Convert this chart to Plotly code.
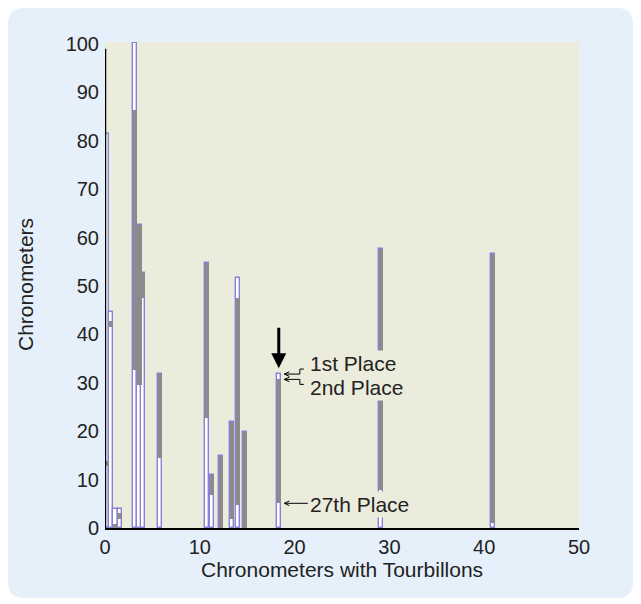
import plotly.graph_objects as go

# ---- data ----
bar_x = [0.22, 0.65, 1.1, 1.55, 3.17, 3.63, 4.0, 5.8, 10.8, 11.25, 12.2, 13.4, 14.0, 14.76, 18.33, 29.1, 40.9]
top_vals = [81.4, 44.7, 4.0, 4.0, 100.2, 62.6, 52.6, 31.8, 54.7, 10.9, 14.9, 21.9, 51.6, 19.9, 31.8, 57.6, 56.6]
high_vals = [13.8, 42.7, 0.8, 3.1, 86.4, 62.6, 52.6, 31.8, 54.7, 10.9, 14.9, 21.9, 47.6, 19.9, 30.7, 57.6, 56.6]
low_vals = [12.8, 41.6, 0.0, 1.9, 32.6, 29.5, 47.5, 14.5, 22.7, 6.8, 0.0, 1.9, 4.75, 0.0, 5.1, 7.85, 1.0]

x_ticks = [0, 10, 20, 30, 40, 50]
y_ticks = [0, 10, 20, 30, 40, 50, 60, 70, 80, 90, 100]

hl_index = 14  # the bar annotated with places
place_labels = ["1st Place", "2nd Place", "27th Place"]

# ---- layout geometry ----
W, H = 625, 590
L, R, T, B = 97, 54, 34, 70
X_RANGE = [0, 50]
Y_RANGE = [0, 100.4]
pw, ph = W - L - R, H - T - B
DX = (X_RANGE[1] - X_RANGE[0]) / pw   # data units per pixel
DY = (Y_RANGE[1] - Y_RANGE[0]) / ph

FONT = "Arial, Liberation Sans, sans-serif"
TXT = "#222222"
BEIGE = "#ECECDC"
PANEL = "#E6F0FA"
GRAY = "#8C8A8C"
OUTLINE = "#8782D8"
BW = 0.44

fig = go.Figure()
fig.add_trace(go.Bar(x=bar_x, y=top_vals, width=BW, marker=dict(color="white", line=dict(color=OUTLINE, width=1.4)),
                     hoverinfo="skip", showlegend=False))
fig.add_trace(go.Bar(x=bar_x, y=[h - l for h, l in zip(high_vals, low_vals)], base=low_vals, width=BW,
                     marker=dict(color=GRAY, line=dict(width=0)), hoverinfo="skip", showlegend=False))


def px2paper_x(px):
    return (px - L) / pw


def px2paper_y(py):
    return (H - B - py) / ph


# rounded outer panel
x0p, x1p, y0p, y1p, r = 0, W, 0, H, 16
def P(px, py):
    return f"{px2paper_x(px):.5f},{px2paper_y(py):.5f}"
path = (f"M {P(x0p + r, y0p)} L {P(x1p - r, y0p)} Q {P(x1p, y0p)} {P(x1p, y0p + r)} "
        f"L {P(x1p, y1p - r)} Q {P(x1p, y1p)} {P(x1p - r, y1p)} L {P(x0p + r, y1p)} "
        f"Q {P(x0p, y1p)} {P(x0p, y1p - r)} L {P(x0p, y0p + r)} Q {P(x0p, y0p)} {P(x0p + r, y0p)} Z")
shapes = [
    dict(type="path", path=path, xref="paper", yref="paper", fillcolor=PANEL, line=dict(width=0), layer="below"),
    dict(type="rect", xref="paper", yref="paper", x0=0, x1=1, y0=0, y1=1, fillcolor=BEIGE, line=dict(width=0), layer="below"),
    dict(type="line", xref="x", yref="y", x0=0, x1=0, y0=0, y1=99, line=dict(color="black", width=2.5)),
]

# small pointer arrows for the annotated bar
hx = bar_x[hl_index]
edge = hx + BW / 2
targets = [top_vals[hl_index], high_vals[hl_index], low_vals[hl_index]]
kinks = [+5, -5, None]
for yv, k in zip(targets, kinks):
    xs = edge + 3.5 * DX
    xe = edge + 19 * DX
    if k is None:
        seg = f"M {xs},{yv} L {edge + 27 * DX},{yv}"
    else:
        seg = f"M {xs},{yv} L {xe},{yv} L {xe},{yv + k * DY} L {xe + 4 * DX},{yv + k * DY}"
    head = (f"M {xs + 5 * DX},{yv + 2.3 * DY} L {xs},{yv} L {xs + 5 * DX},{yv - 2.3 * DY}")
    shapes.append(dict(type="path", path=seg, xref="x", yref="y", line=dict(color="black", width=1)))
    shapes.append(dict(type="path", path=head, xref="x", yref="y", line=dict(color="black", width=1)))

annotations = [
    dict(x=hx, y=top_vals[hl_index] + 1.2, xref="x", yref="y", ax=0, ay=-42, text="", showarrow=True,
         arrowhead=2, arrowsize=1, arrowwidth=3, arrowcolor="black", standoff=0),
]
text_shift = [11, -8.6, -1]
for lab, yv, ys in zip(place_labels, targets, text_shift):
    annotations.append(dict(x=edge, y=yv, xref="x", yref="y", xanchor="left", yanchor="middle", xshift=27,
                            yshift=ys, text=lab, showarrow=False, bgcolor=BEIGE, borderpad=1,
                            font=dict(family=FONT, size=21, color=TXT)))

annotations.append(dict(x=0.5, y=px2paper_y(561), xref="paper", yref="paper", text="Chronometers with Tourbillons",
                        showarrow=False, xanchor="center", yanchor="middle", font=dict(family=FONT, size=21, color=TXT)))
annotations.append(dict(x=px2paper_x(17), y=0.5, xref="paper", yref="paper", text="Chronometers", textangle=-90,
                        showarrow=False, xanchor="center", yanchor="middle", font=dict(family=FONT, size=21, color=TXT)))

fig.update_layout(
    width=W, height=H, margin=dict(l=L, r=R, t=T, b=B),
    paper_bgcolor="white", plot_bgcolor="rgba(0,0,0,0)",
    barmode="overlay", bargap=0,
    shapes=shapes, annotations=annotations,
    font=dict(family=FONT, size=20, color=TXT),
    xaxis=dict(range=X_RANGE, tickvals=x_ticks, showgrid=False, zeroline=False, showline=True, linecolor="black",
               linewidth=2, ticks="", tickfont=dict(family=FONT, size=20, color=TXT), ticklabelstandoff=0),
    yaxis=dict(range=Y_RANGE, tickvals=y_ticks, showgrid=False, zeroline=False, showline=False, ticks="",
               tickfont=dict(family=FONT, size=20, color=TXT), ticklabelstandoff=5),
)

fig.write_html("out.html")
